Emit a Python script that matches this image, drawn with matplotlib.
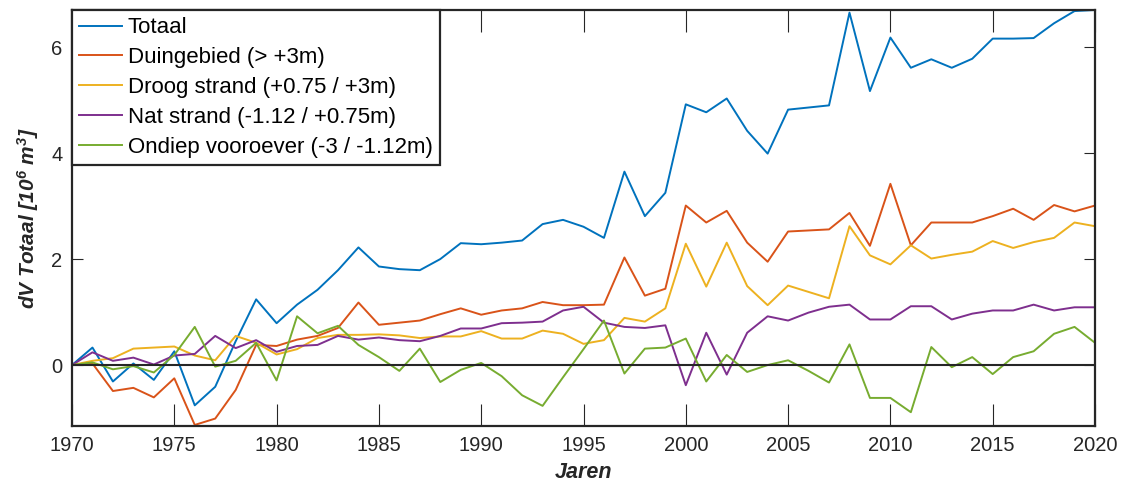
import numpy as np
import matplotlib
matplotlib.use("Agg")
import matplotlib.pyplot as plt

plt.rcParams['font.family'] = ['Liberation Sans', 'DejaVu Sans']
plt.rcParams['mathtext.fontset'] = 'custom'
plt.rcParams['mathtext.rm'] = 'Liberation Sans:italic:bold'
plt.rcParams['mathtext.default'] = 'rm'

# ---- data: cumulative volume change per zone (10^6 m^3) ----
jaren = np.arange(1970, 2021)

totaal = [0, 0.33, -0.31, 0.03, -0.28, 0.26, -0.76, -0.41, 0.45, 1.24,
          0.79, 1.14, 1.42, 1.79, 2.22, 1.86, 1.81, 1.79, 2.00, 2.30,
          2.28, 2.31, 2.35, 2.66, 2.74, 2.61, 2.40, 3.65, 2.81, 3.25,
          4.92, 4.77, 5.03, 4.42, 3.99, 4.82, 4.86, 4.90, 6.65, 5.17,
          6.18, 5.61, 5.77, 5.61, 5.78, 6.16, 6.16, 6.17, 6.45, 6.68, 6.70]

duin = [0, 0.03, -0.49, -0.43, -0.61, -0.25, -1.13, -1.01, -0.47, 0.38,
        0.36, 0.48, 0.55, 0.70, 1.18, 0.76, 0.80, 0.84, 0.96, 1.07,
        0.95, 1.03, 1.07, 1.19, 1.13, 1.13, 1.14, 2.03, 1.31, 1.44,
        3.01, 2.69, 2.91, 2.31, 1.95, 2.52, 2.54, 2.56, 2.87, 2.25,
        3.42, 2.26, 2.69, 2.69, 2.69, 2.81, 2.95, 2.74, 3.02, 2.90, 3.01]

droog = [0, 0.08, 0.13, 0.31, 0.33, 0.35, 0.18, 0.09, 0.55, 0.42,
         0.20, 0.30, 0.51, 0.57, 0.57, 0.58, 0.56, 0.51, 0.54, 0.54,
         0.64, 0.50, 0.50, 0.65, 0.59, 0.40, 0.47, 0.89, 0.82, 1.07,
         2.29, 1.48, 2.31, 1.49, 1.13, 1.50, 1.38, 1.26, 2.62, 2.07,
         1.90, 2.26, 2.01, 2.08, 2.14, 2.34, 2.21, 2.32, 2.40, 2.69, 2.62]

nat = [0, 0.24, 0.08, 0.14, 0.01, 0.18, 0.21, 0.55, 0.32, 0.47,
       0.25, 0.36, 0.38, 0.55, 0.48, 0.52, 0.47, 0.45, 0.55, 0.69,
       0.69, 0.79, 0.80, 0.82, 1.03, 1.10, 0.80, 0.72, 0.70, 0.75,
       -0.38, 0.61, -0.18, 0.61, 0.92, 0.84, 0.99, 1.10, 1.14, 0.86,
       0.86, 1.11, 1.11, 0.86, 0.97, 1.03, 1.03, 1.14, 1.03, 1.09, 1.09]

ondiep = [0, 0.05, -0.08, -0.02, -0.14, 0.19, 0.72, -0.03, 0.08, 0.42,
          -0.29, 0.92, 0.60, 0.74, 0.38, 0.15, -0.11, 0.31, -0.32, -0.09,
          0.04, -0.21, -0.57, -0.77, -0.23, 0.30, 0.84, -0.16, 0.31, 0.33,
          0.50, -0.31, 0.19, -0.13, 0.00, 0.09, -0.11, -0.33, 0.39, -0.62,
          -0.62, -0.89, 0.34, -0.04, 0.15, -0.17, 0.15, 0.26, 0.59, 0.72, 0.42]

labels = ['Totaal', 'Duingebied (> +3m)', 'Droog strand (+0.75 / +3m)',
          'Nat strand (-1.12 / +0.75m)', 'Ondiep vooroever (-3 / -1.12m)']
kleuren = ['#0072BD', '#D95319', '#EDB120', '#7E2F8E', '#77AC30']

# ---- plot ----
fig = plt.figure(figsize=(11.27, 4.82), dpi=100)
ax = fig.add_axes([72 / 1127, 1 - 426 / 482, (1095 - 72) / 1127, (426 - 10) / 482])

for reeks, lab, kl in zip([totaal, duin, droog, nat, ondiep], labels, kleuren):
    ax.plot(jaren, reeks, color=kl, lw=1.4, label=lab)

ax.axhline(0, color='#262626', lw=1.5, zorder=3)

ax.set_xlim(1970, 2020)
ax.set_ylim(-1.15, 6.7)
ax.set_xticks(np.arange(1970, 2021, 5))
ax.set_yticks([0, 2, 4, 6])

ax.tick_params(axis='both', direction='in', top=True, right=True,
               colors='#262626', labelsize=14.5, width=0.8)
ax.tick_params(axis='x', length=16, pad=7)
ax.tick_params(axis='y', length=8, pad=7)
for sp in ax.spines.values():
    sp.set_linewidth(1.6)
    sp.set_color('#262626')

ax.set_xlabel('Jaren', fontsize=15.5, fontweight='bold', style='italic',
              color='#262626', labelpad=5)
ax.set_ylabel(r'dV Totaal [10$^6$ m$^3$]', fontsize=15, fontweight='bold',
              style='italic', color='#262626', labelpad=7)

leg = ax.legend(loc='upper left', bbox_to_anchor=(0, 1), borderaxespad=0,
                fontsize=16, fancybox=False, framealpha=1,
                edgecolor='#262626', handlelength=1.9, handletextpad=0.27,
                labelspacing=0.4, borderpad=0.33)
leg.get_frame().set_linewidth(1.6)

fig.savefig('out.png', dpi=100)
